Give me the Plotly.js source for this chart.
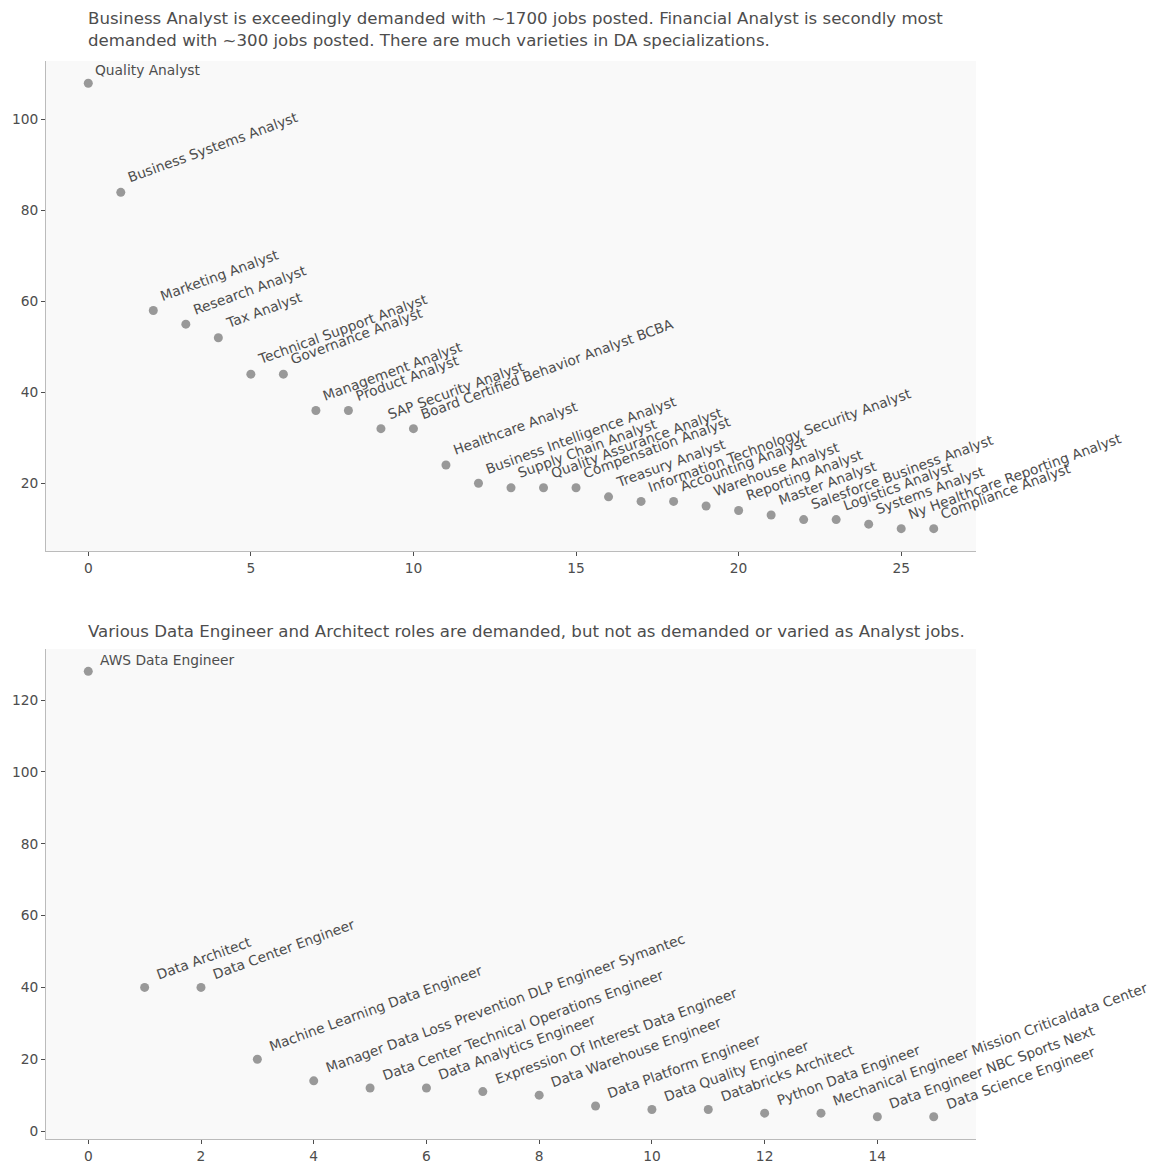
<!DOCTYPE html>
<html>
<head>
<meta charset="utf-8">
<script src="https://cdn.plot.ly/plotly-3.0.1.min.js"></script>
<style>html,body{margin:0;padding:0;background:#fff;}#chart{width:1162px;height:1173px;}</style>
</head>
<body>
<div id="chart"></div>
<script>
const analystTitles = ["Quality Analyst","Business Systems Analyst","Marketing Analyst","Research Analyst","Tax Analyst","Technical Support Analyst","Governance Analyst","Management Analyst","Product Analyst","SAP Security Analyst","Board Certified Behavior Analyst BCBA","Healthcare Analyst","Business Intelligence Analyst","Supply Chain Analyst","Quality Assurance Analyst","Compensation Analyst","Treasury Analyst","Information Technology Security Analyst","Accounting Analyst","Warehouse Analyst","Reporting Analyst","Master Analyst","Salesforce Business Analyst","Logistics Analyst","Systems Analyst","Ny Healthcare Reporting Analyst","Compliance Analyst"];
const analystCounts = [108,84,58,55,52,44,44,36,36,32,32,24,20,19,19,19,17,16,16,15,14,13,12,12,11,10,10];

const engineerTitles = ["AWS Data Engineer","Data Architect","Data Center Engineer","Machine Learning Data Engineer","Manager Data Loss Prevention DLP Engineer Symantec","Data Center Technical Operations Engineer","Data Analytics Engineer","Expression Of Interest Data Engineer","Data Warehouse Engineer","Data Platform Engineer","Data Quality Engineer","Databricks Architect","Python Data Engineer","Mechanical Engineer Mission Criticaldata Center","Data Engineer NBC Sports Next","Data Science Engineer"];
const engineerCounts = [128,40,40,20,14,12,12,11,10,7,6,6,5,5,4,4];

const topTitle = "Business Analyst is exceedingly demanded with ~1700 jobs posted. Financial Analyst is secondly most<br>demanded with ~300 jobs posted. There are much varieties in DA specializations.";
const bottomTitle = "Various Data Engineer and Architect roles are demanded, but not as demanded or varied as Analyst jobs.";

const FONT = "DejaVu Sans, sans-serif";
const TXT = "#4d4d4d";
const MK = "#999999";

const ax1 = analystCounts.map((_, i) => i);
const ax2 = engineerCounts.map((_, i) => i);

const traces = [
  {x: ax1, y: analystCounts, type: "scatter", mode: "markers", marker: {color: MK, size: 9}, xaxis: "x", yaxis: "y", hoverinfo: "skip"},
  {x: ax2, y: engineerCounts, type: "scatter", mode: "markers", marker: {color: MK, size: 9}, xaxis: "x2", yaxis: "y2", hoverinfo: "skip"}
];

const annotations = [];
function addLabels(titles, counts, xr, yr) {
  titles.forEach((t, i) => {
    const first = i === 0;
    annotations.push({
      x: i + 0.2, y: counts[i] + 2, xref: xr, yref: yr, text: t, showarrow: false,
      xanchor: "left", yanchor: "bottom",
      textangle: first ? 0 : -20,
      xshift: first ? -2 : -4, yshift: first ? -6 : -5,
      font: {family: FONT, size: 13.8, color: TXT}
    });
  });
}
addLabels(analystTitles, analystCounts, "x", "y");
addLabels(engineerTitles, engineerCounts, "x2", "y2");

annotations.push({xref: "paper", yref: "paper", x: 0.0452, y: 1.0, yshift: 9, xshift: -2, xanchor: "left", yanchor: "bottom", align: "left", showarrow: false, text: topTitle, font: {family: FONT, size: 16.6, color: TXT}});
annotations.push({xref: "paper", yref: "paper", x: 0.0452, y: 0.4545, yshift: 6, xshift: -2, xanchor: "left", yanchor: "bottom", align: "left", showarrow: false, text: bottomTitle, font: {family: FONT, size: 16.6, color: TXT}});

const axisCommon = {
  showgrid: false, zeroline: false, showline: true, linecolor: "#bbbbbb", linewidth: 1,
  ticks: "outside", ticklen: 4, tickcolor: "#4d4d4d", tickwidth: 1,
  tickfont: {family: FONT, size: 13.8, color: TXT}, mirror: false
};

const layout = {
  width: 1162, height: 1173,
  margin: {l: 46, r: 186, t: 61, b: 34},
  paper_bgcolor: "#ffffff", plot_bgcolor: "#f9f9f9",
  showlegend: false,
  xaxis: Object.assign({}, axisCommon, {domain: [0, 1], range: [-1.3, 27.3], tickvals: [0,5,10,15,20,25], anchor: "y"}),
  yaxis: Object.assign({}, axisCommon, {domain: [0.5455, 1], range: [5.1, 112.9], tickvals: [20,40,60,80,100], anchor: "x"}),
  xaxis2: Object.assign({}, axisCommon, {domain: [0, 1], range: [-0.75, 15.75], tickvals: [0,2,4,6,8,10,12,14], anchor: "y2"}),
  yaxis2: Object.assign({}, axisCommon, {domain: [0, 0.4545], range: [-2.2, 134.2], tickvals: [0,20,40,60,80,100,120], anchor: "x2"}),
  annotations: annotations
};

Plotly.newPlot("chart", traces, layout, {staticPlot: true});
</script>
</body>
</html>
